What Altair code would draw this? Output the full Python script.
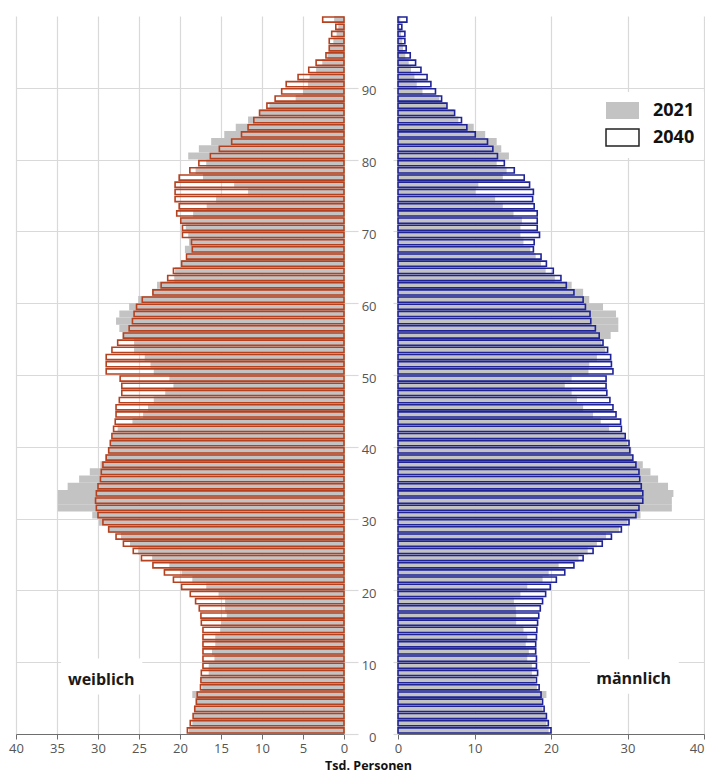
import altair as alt
import pandas as pd

# ---------------- data (Tsd. Personen, ages 0..99) ----------------
ages = list(range(100))

f2021 = [18.9, 18.5, 18.3, 18.25, 18.1, 18.5, 17.3, 17.4, 16.5, 16.5,
         15.8, 16.1, 15.7, 15.7, 15.1, 15.0, 14.3, 14.5, 14.5, 15.3,
         16.8, 18.5, 19.8, 21.3, 23.4, 25.1, 26.1, 27.2, 28.7, 29.9,
         30.7, 34.9, 34.9, 34.9, 33.7, 32.3, 31.0, 29.7, 29.1, 28.7,
         28.5, 28.25, 27.6, 25.8, 24.5, 23.9, 23.2, 21.8, 20.8, 21.3,
         23.2, 23.6, 24.3, 25.6, 25.6, 27.0, 27.4, 27.8, 27.4, 26.2,
         25.1, 23.4, 22.8, 20.7, 20.6, 19.8, 19.1, 19.4, 18.9, 19.0,
         19.3, 19.8, 18.4, 16.75, 15.6, 11.7, 13.4, 17.2, 18.1, 16.8,
         19.0, 17.7, 16.2, 14.6, 13.2, 11.7, 10.3, 9.1, 5.9, 5.0,
         4.4, 4.2, 3.4, 2.65, 2.0, 1.75, 1.3, 0.9, 0.7, 1.2]

f2040 = [19.1, 18.75, 18.4, 18.2, 18.0, 17.9, 17.5, 17.45, 17.4, 17.2,
         17.2, 17.2, 17.2, 17.2, 17.2, 17.4, 17.45, 17.65, 18.1, 18.75,
         19.8, 20.8, 21.9, 23.3, 24.7, 25.7, 26.9, 27.8, 28.7, 29.4,
         30.0, 30.2, 30.3, 30.2, 30.0, 29.7, 29.6, 29.4, 29.0, 28.7,
         28.5, 28.3, 28.1, 27.9, 27.8, 27.8, 27.4, 27.1, 27.1, 27.3,
         29.0, 29.0, 29.0, 28.3, 27.6, 26.9, 26.2, 25.8, 25.6, 25.3,
         24.6, 23.3, 22.3, 21.5, 20.8, 19.8, 19.2, 18.5, 18.6, 19.7,
         19.7, 19.9, 20.4, 20.1, 20.6, 20.6, 20.6, 20.1, 18.8, 17.7,
         16.3, 15.2, 13.7, 12.5, 11.7, 11.0, 10.3, 9.4, 8.4, 7.6,
         7.05, 5.6, 4.3, 3.4, 2.2, 1.8, 1.8, 1.5, 1.0, 2.6]

m2021 = [19.7, 19.4, 19.3, 18.9, 18.75, 19.4, 18.15, 17.9, 17.5, 17.5,
         16.9, 17.1, 16.7, 16.9, 16.4, 15.45, 15.45, 15.4, 15.15, 16.0,
         16.9, 18.9, 19.7, 21.0, 23.6, 24.8, 26.0, 27.2, 28.9, 30.0,
         31.7, 35.8, 35.8, 36.0, 35.3, 34.0, 33.0, 32.0, 30.7, 30.5,
         30.0, 29.6, 27.6, 26.5, 25.5, 24.2, 23.4, 22.7, 21.8, 22.7,
         24.9, 25.0, 26.0, 27.1, 26.6, 27.8, 28.8, 28.8, 28.5, 26.8,
         25.0, 24.2, 22.7, 20.5, 19.3, 18.7, 18.0, 17.3, 16.4, 16.0,
         16.0, 16.2, 15.1, 13.7, 12.7, 10.1, 10.5, 13.7, 14.2, 12.9,
         14.5, 13.5, 12.9, 11.4, 9.9, 7.9, 7.3, 6.3, 5.4, 3.2,
         2.45, 2.15, 1.7, 1.4, 0.95, 0.65, 0.55, 0.4, 0.2, 0.3]

m2040 = [20.0, 19.65, 19.4, 19.1, 18.9, 18.7, 18.45, 18.1, 18.25, 18.1,
         18.1, 18.0, 18.0, 18.1, 18.15, 18.25, 18.4, 18.6, 18.9, 19.3,
         19.9, 20.7, 21.8, 23.0, 24.2, 25.5, 26.7, 27.9, 29.2, 30.2,
         31.1, 31.5, 32.0, 32.0, 31.8, 31.6, 31.5, 31.1, 30.7, 30.3,
         30.2, 29.7, 29.2, 29.1, 28.5, 28.1, 27.7, 27.3, 27.2, 27.2,
         28.1, 27.9, 27.8, 27.4, 26.8, 26.3, 25.8, 25.2, 25.1, 24.5,
         24.2, 23.0, 22.0, 21.3, 20.3, 19.4, 18.7, 17.7, 17.8, 18.5,
         18.2, 18.2, 18.2, 17.8, 17.6, 17.7, 17.2, 16.5, 15.2, 13.9,
         13.0, 12.4, 11.7, 10.1, 9.0, 8.3, 7.4, 6.4, 5.7, 4.9,
         4.3, 3.8, 3.0, 2.3, 1.6, 1.07, 0.9, 0.9, 0.5, 1.16]

years = ["2021", "2040"]
tick_ages = list(range(0, 100, 5))
x_ticks = list(range(0, 45, 5))
sexes = ["weiblich", "männlich"]

# annotation positions in data units (value, age)
label_x = [29.6, 30.8]
label_y = [7.5, 7.6]
box_x = [24.6, 25.1]
box_x2 = [34.5, 36.7]
box_y = [5.5, 5.6]
box_y2 = [10.5, 10.4]

# ---------------- tables ----------------
def frame(v2021, v2040):
    rows = []
    for i, a in enumerate(ages):
        rows.append({"age": a, "lo": a, "hi": a + 1, "o_lo": a + 0.14, "o_hi": a + 0.86,
                     "zero": 0, "year": "2021", "value": v2021[i]})
        rows.append({"age": a, "lo": a, "hi": a + 1, "o_lo": a + 0.14, "o_hi": a + 0.86,
                     "zero": 0, "year": "2040", "value": v2040[i]})
    return pd.DataFrame(rows)

df_f = frame(f2021, f2040)
df_m = frame(m2021, m2040)
ann = pd.DataFrame({"sex": sexes, "x": label_x, "y": label_y,
                    "bx": box_x, "bx2": box_x2, "by": box_y, "by2": box_y2})

FONT = "Open Sans"
GRID = "#d9d9d9"
AXIS = "#6e6e6e"
LABEL = "#555555"
GRAY = "#c3c3c3"
RED = "#b5411f"
BLUE = "#1f2396"

ys = alt.Scale(domain=[0, 100], nice=False, zero=False)


def x_axis(flush_last=False):
    kw = dict(values=x_ticks, grid=True, gridColor=GRID, gridWidth=1.2,
              domainColor=AXIS, tickColor=AXIS, tickSize=5, labelColor=LABEL,
              labelFontSize=13, labelFont=FONT, labelPadding=3, title=None,
              labelFlush=False)
    if flush_last:
        kw["labelAlign"] = {"condition": {"test": "datum.value == 40", "value": "right"},
                            "value": "center"}
    return alt.Axis(**kw)


def panel(df, xscale, xaxis, yaxis, outline_color, sex, extra=None):
    base = alt.Chart(df)
    gray = base.transform_filter(alt.datum.year == "2021").mark_rect(color=GRAY).encode(
        x=alt.X("value:Q", scale=xscale, axis=xaxis),
        x2="zero:Q",
        y=alt.Y("lo:Q", scale=ys, axis=yaxis),
        y2="hi:Q",
    )
    outline = base.transform_filter(alt.datum.year == "2040").mark_rect(
        filled=False, stroke=outline_color, strokeWidth=1.6).encode(
        x=alt.X("value:Q", scale=xscale),
        x2="zero:Q",
        y=alt.Y("o_lo:Q", scale=ys),
        y2="o_hi:Q",
    )
    a = alt.Chart(ann).transform_filter(alt.datum.sex == sex)
    box = a.mark_rect(color="white").encode(
        x=alt.X("bx:Q", scale=xscale), x2="bx2:Q",
        y=alt.Y("by:Q", scale=ys), y2="by2:Q")
    txt = a.mark_text(font=FONT, fontSize=16, fontWeight="bold", color="#1a1a1a").encode(
        x=alt.X("x:Q", scale=xscale), y=alt.Y("y:Q", scale=ys), text="sex:N")
    layers = [gray, outline, box, txt]
    if extra is not None:
        layers.append(extra)
    return alt.layer(*layers)


left_y = alt.Axis(values=tick_ages, orient="right", grid=True, gridColor=GRID, gridWidth=1.2,
                  labels=False, domain=False, tickColor=GRID, tickWidth=1.2, tickSize=14,
                  title=None)
right_y = alt.Axis(values=tick_ages, orient="left", grid=True, gridColor=GRID, gridWidth=1.2,
                   domain=False, tickColor=GRID, tickWidth=1.2, tickSize=5, labelPadding=17,
                   labelColor=LABEL, labelFontSize=13, labelFont=FONT, labelOffset=3,
                   title=None)

leg = alt.Legend(title=None, orient="none", legendX=206, legendY=76,
                 symbolType="M-1.94,-1L1.94,-1L1.94,1L-1.94,1Z", symbolSize=289,
                 symbolStrokeWidth=1.5, labelFontSize=18, labelFont=FONT,
                 labelFontWeight="bold", labelColor="#111111", labelOffset=21,
                 rowPadding=4, fillColor="white", padding=9)

legend_layer = alt.Chart(pd.DataFrame({"year": years})).transform_filter("false").mark_rect().encode(
    fill=alt.Fill("year:N", scale=alt.Scale(domain=years, range=[GRAY, "white"]), legend=leg),
    stroke=alt.Stroke("year:N", scale=alt.Scale(domain=years, range=["rgba(0,0,0,0)", "#222222"]),
                      legend=leg),
)

left = panel(df_f, alt.Scale(domain=[0, 40], reverse=True, nice=False), x_axis(), left_y, RED,
             "weiblich").properties(width=328, height=718)
right = panel(df_m, alt.Scale(domain=[0, 40], nice=False), x_axis(True), right_y, BLUE,
              "männlich", extra=legend_layer).properties(width=306, height=718)

chart = alt.hconcat(left, right, spacing=54, bounds="flush").resolve_scale(
    fill="independent", stroke="independent").resolve_legend(
    fill="independent", stroke="independent").properties(
    padding={"left": 0, "top": 8, "right": 0, "bottom": 0},
    title=alt.TitleParams("Tsd. Personen", orient="bottom", anchor="middle", fontSize=12.5,
                          fontWeight="bold", font=FONT, color="#111111", offset=5, dx=12),
).configure_view(strokeWidth=0)

chart.save("out.html", embed_options={"renderer": "svg", "actions": False})
